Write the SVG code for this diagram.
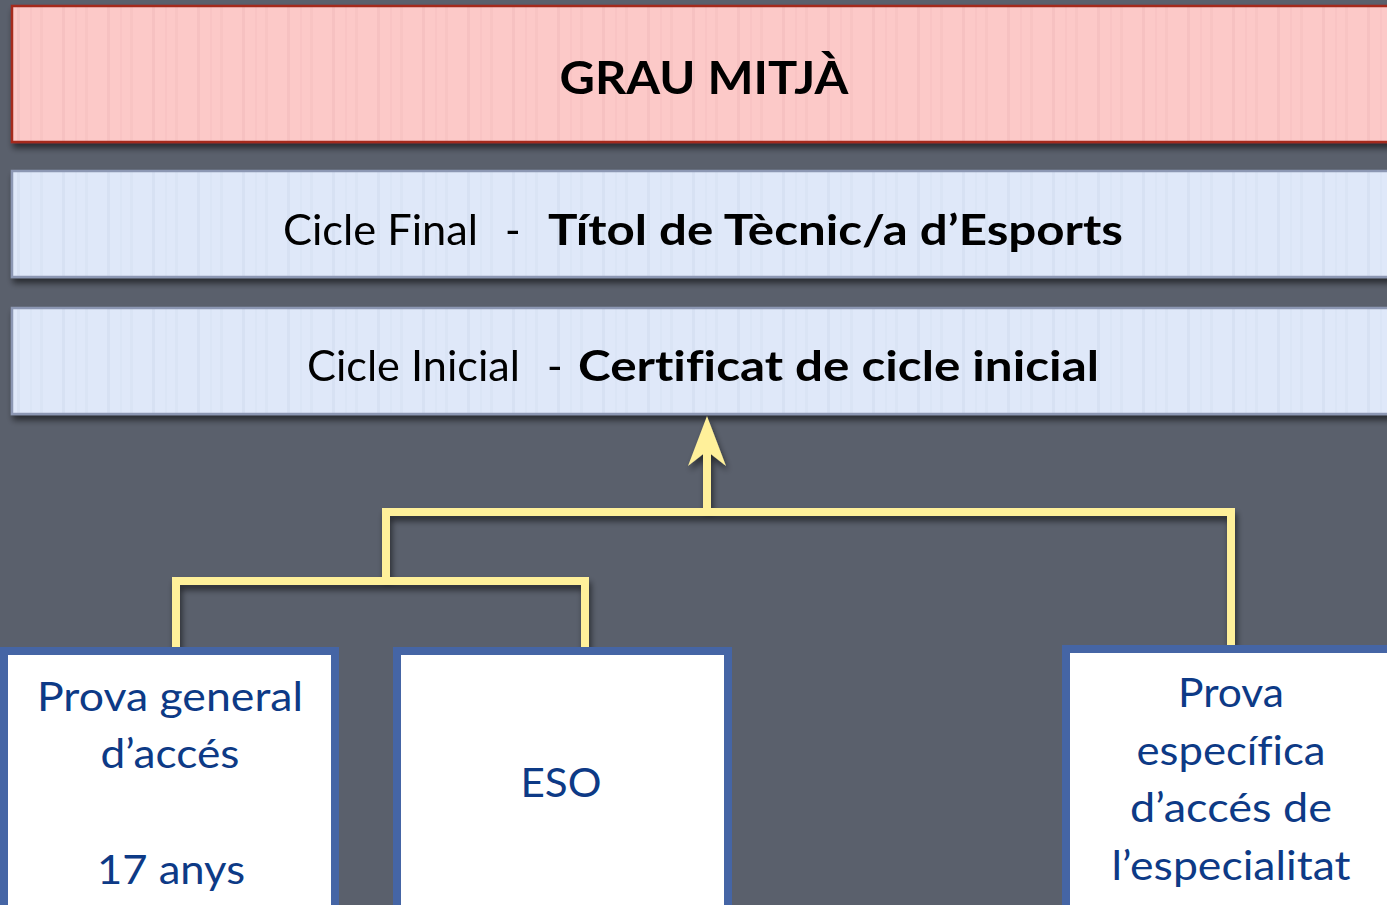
<svg xmlns="http://www.w3.org/2000/svg" width="1387" height="905" viewBox="0 0 1387 905">
<defs>
<style>
.band{stroke-width:2.5}
.pink{fill:url(#pinkStripes);stroke:#A52A1E}
.blue{fill:url(#blueStripes);stroke:#8C97B3}
.t{font-family:"Lato","Noto Sans","DejaVu Sans",sans-serif;fill:#000;font-variant-ligatures:none}
.reg{font-weight:400}
.bold{font-weight:700}
.box{fill:#fff;stroke:#4565A5;stroke-width:8}
.bt{font-family:"Lato","Noto Sans","DejaVu Sans",sans-serif;font-size:40px;fill:#0D3A86;text-anchor:middle;font-variant-ligatures:none}
.conn{fill:none;stroke:#FFF09A;stroke-width:8;stroke-linecap:square;stroke-linejoin:miter}
</style>
<pattern id="pinkStripes" width="45" height="10" patternUnits="userSpaceOnUse">
<rect width="45" height="10" fill="#FCC9C8"/>
<rect x="17" width="3" height="10" fill="#F2BCBC" opacity="0.6"/>
<rect x="30" width="2" height="10" fill="#F5C0C0" opacity="0.5"/>
<rect x="40" width="3" height="10" fill="#F2BCBC" opacity="0.4"/>
</pattern>
<pattern id="blueStripes" width="45" height="10" patternUnits="userSpaceOnUse">
<rect width="45" height="10" fill="#DFE8F9"/>
<rect x="17" width="3" height="10" fill="#D5DFF2" opacity="0.7"/>
<rect x="30" width="2" height="10" fill="#D8E1F4" opacity="0.5"/>
<rect x="40" width="3" height="10" fill="#D5DFF2" opacity="0.5"/>
</pattern>
<filter id="sh" x="-5%" y="-20%" width="110%" height="150%">
<feGaussianBlur in="SourceAlpha" stdDeviation="3"/>
<feOffset dx="2" dy="5" result="b"/>
<feComponentTransfer><feFuncA type="linear" slope="0.55"/></feComponentTransfer>
<feMerge><feMergeNode/><feMergeNode in="SourceGraphic"/></feMerge>
</filter>
</defs>
<rect width="1387" height="905" fill="#5A606C"/>
<g id="grau-mitja" filter="url(#sh)">
<rect class="band pink" x="12" y="6" width="1390" height="136"/>
<text class="t bold" x="704" y="94" font-size="46" text-anchor="middle" textLength="289" lengthAdjust="spacingAndGlyphs">GRAU MITJÀ</text>
</g>
<g id="cicle-final" filter="url(#sh)">
<rect class="band blue" x="12" y="171" width="1390" height="106"/>
<text class="t reg" x="283" y="245" font-size="42" textLength="195" lengthAdjust="spacingAndGlyphs">Cicle Final</text>
<text class="t reg" x="505" y="245" font-size="42">-</text>
<text class="t bold" x="548" y="245" font-size="42" textLength="575" lengthAdjust="spacingAndGlyphs">Títol de Tècnic/a d’Esports</text>
</g>
<g id="cicle-inicial" filter="url(#sh)">
<rect class="band blue" x="12" y="308" width="1390" height="106"/>
<text class="t reg" x="307" y="381" font-size="42" textLength="213" lengthAdjust="spacingAndGlyphs">Cicle Inicial</text>
<text class="t reg" x="547" y="381" font-size="42">-</text>
<text class="t bold" x="578" y="381" font-size="42" textLength="521" lengthAdjust="spacingAndGlyphs">Certificat de cicle inicial</text>
</g>
<g id="connectors" filter="url(#sh)">
<path class="conn" d="M176 645 V581 H585 V645"/>
<path class="conn" d="M386 578 V512 H1231 V642"/>
<path class="conn" d="M707 508 V455" stroke-linecap="butt"/>
<polygon points="707,416 726,466 707,451 688,466" fill="#FFF09A"/>
</g>
<g id="prova-general">
<rect class="box" x="4" y="651" width="331" height="270"/>
<text class="bt" x="170" y="711" textLength="266" lengthAdjust="spacingAndGlyphs">Prova general</text>
<text class="bt" x="170" y="768" textLength="139" lengthAdjust="spacingAndGlyphs">d’accés</text>
<text class="bt" x="171" y="884" textLength="148" lengthAdjust="spacingAndGlyphs">17 anys</text>
</g>
<g id="eso">
<rect class="box" x="397" y="651" width="331" height="270"/>
<text class="bt" x="561" y="797" textLength="81" lengthAdjust="spacingAndGlyphs">ESO</text>
</g>
<g id="prova-especifica">
<rect class="box" x="1066" y="649" width="340" height="270"/>
<text class="bt" x="1231" y="707" textLength="106" lengthAdjust="spacingAndGlyphs">Prova</text>
<text class="bt" x="1231" y="765" textLength="189" lengthAdjust="spacingAndGlyphs">específica</text>
<text class="bt" x="1231" y="822" textLength="202" lengthAdjust="spacingAndGlyphs">d’accés de</text>
<text class="bt" x="1231" y="880" textLength="239" lengthAdjust="spacingAndGlyphs">l’especialitat</text>
</g>
</svg>
